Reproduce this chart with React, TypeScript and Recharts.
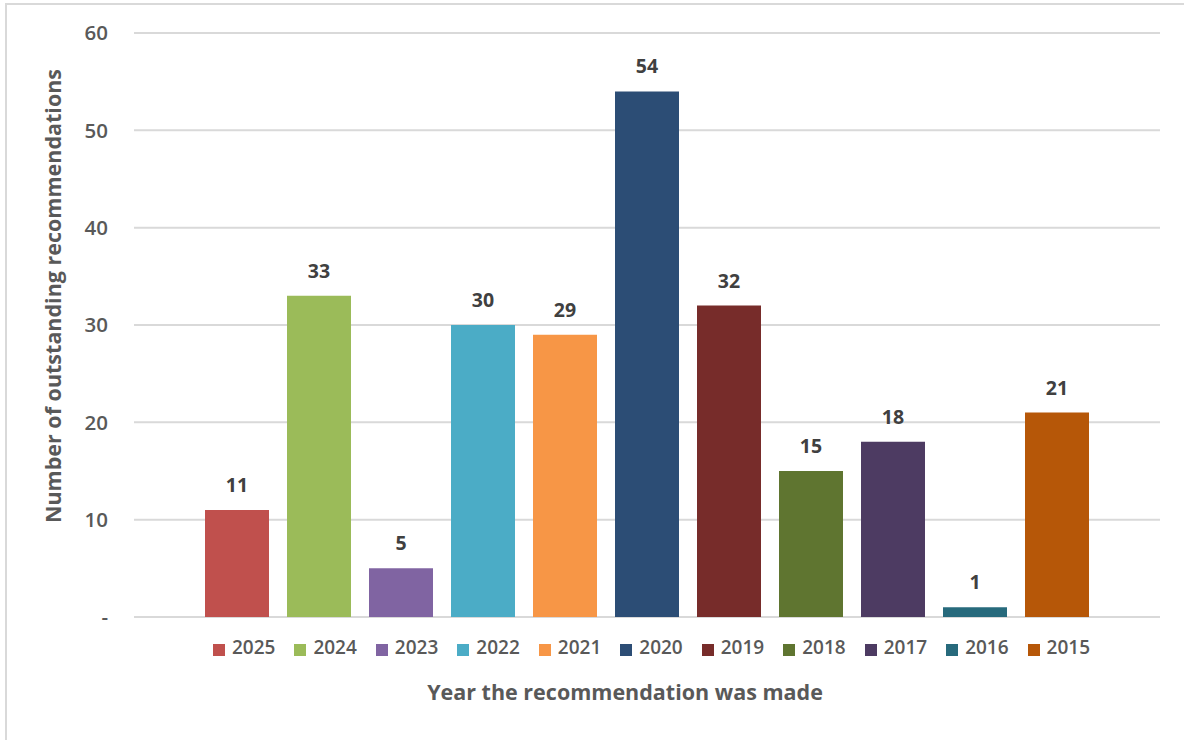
import React from 'react';
import { Bar, BarChart, CartesianGrid, LabelList, Legend, XAxis, YAxis } from 'recharts';

const years = ['2025', '2024', '2023', '2022', '2021', '2020', '2019', '2018', '2017', '2016', '2015'];
const counts = [11, 33, 5, 30, 29, 54, 32, 15, 18, 1, 21];
const colors = ['#C0504D', '#9BBB59', '#8064A2', '#4BACC6', '#F79646', '#2C4D75', '#772C2A', '#5F7530', '#4D3B62', '#276A7C', '#B65708'];
const yTicks = [0, 10, 20, 30, 40, 50, 60];

const row: Record<string, number | string> = { name: 'all' };
years.forEach((y, i) => { row[y] = counts[i]; });
const data = [row];

const FONT = '"Open Sans", sans-serif';

const YTitle = (props: any) => {
  const { viewBox } = props;
  const x = viewBox.x + 52;
  const y = viewBox.y + viewBox.height / 2 - 29;
  return (
    <text x={x} y={y} transform={`rotate(-90, ${x}, ${y})`} textAnchor="middle" dominantBaseline="central"
      fill="#595959" fontSize={21.5} fontWeight={700} fontFamily={FONT}>
      Number of outstanding recommendations
    </text>
  );
};

export default function App() {
  return (
    <div style={{ position: 'absolute', left: 0, top: 0, width: 1184, height: 740, overflow: 'hidden', background: '#fff' }}>
      <div style={{ position: 'absolute', left: 5, top: 3, width: 1200, height: 780, border: '2px solid #d9d9d9' }} />
      <div style={{ position: 'absolute', left: 0, top: 0 }}>
        <BarChart width={1184} height={740} data={data} barGap={18}
          margin={{ top: 33, right: 24, left: 0, bottom: 63 }} style={{ fontFamily: FONT }}>
          <CartesianGrid vertical={false} stroke="#d9d9d9" strokeWidth={2} />
          <XAxis dataKey="name" tick={false} axisLine={false} tickLine={false} height={60}
            label={{ value: 'Year the recommendation was made', position: 'bottom', offset: 8, dx: -22,
              fill: '#595959', fontSize: 21.5, fontWeight: 700, fontFamily: FONT }} />
          <YAxis width={134} domain={[0, 60]} ticks={yTicks} axisLine={false} tickLine={false} tickMargin={20}
            tickFormatter={(v: number) => (v === 0 ? '-' : String(v))}
            tick={{ fill: '#595959', fontSize: 20.5, fontWeight: 600, fontFamily: FONT }}
            label={<YTitle />} />
          <Legend verticalAlign="middle" align="center" layout="horizontal" iconType="square" iconSize={12}
            itemSorter={(item: any) => years.indexOf(String(item.value))}
            wrapperStyle={{ top: 634, left: 148, width: 1026 }}
            formatter={(value: string) => (
              <span style={{ color: '#595959', fontSize: 19, fontWeight: 600, marginLeft: 3, paddingRight: 9, fontFamily: FONT }}>{value}</span>
            )} />
          {years.map((y, i) => (
            <Bar key={y} dataKey={y} name={y} fill={colors[i]} barSize={64} isAnimationActive={false}>
              <LabelList dataKey={y} position="top" offset={18} fill="#404040" fontSize={19.5} fontWeight={700} fontFamily={FONT} />
            </Bar>
          ))}
        </BarChart>
      </div>
    </div>
  );
}
